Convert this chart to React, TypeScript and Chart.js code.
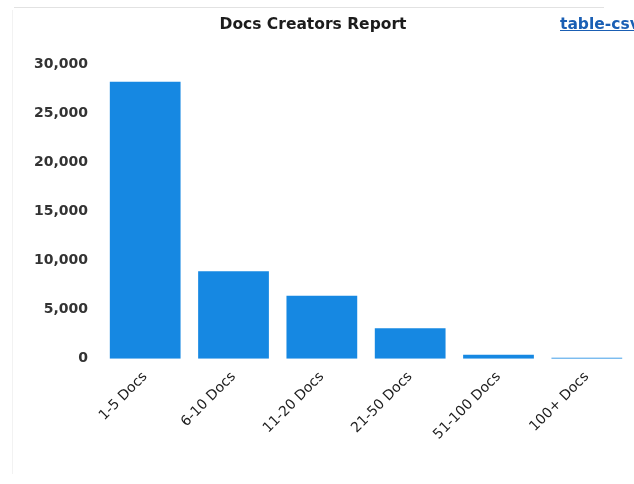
import React, { useEffect, useRef } from "react";
import { Chart, registerables } from "chart.js";

Chart.register(...registerables);

const categories = ["1-5 Docs", "6-10 Docs", "11-20 Docs", "21-50 Docs", "51-100 Docs", "100+ Docs"];
const creators = [28200, 8900, 6400, 3100, 400, 100];
const yTicks = [0, 5000, 10000, 15000, 20000, 25000, 30000];
const titleText = "Docs Creators Report";
const linkText = "table-csv";

const FONT = "'DejaVu Sans', Verdana, sans-serif";

export default function App() {
  const ref = useRef<HTMLCanvasElement | null>(null);
  useEffect(() => {
    if (!ref.current) return;
    const chart = new Chart(ref.current, {
      type: "bar",
      data: {
        labels: categories,
        datasets: [
          {
            label: "Creators",
            data: creators,
            backgroundColor: "#1688e2",
            borderWidth: 0,
            categoryPercentage: 0.9,
            barPercentage: 0.89,
          },
        ],
      },
      options: {
        animation: false,
        responsive: false,
        layout: { padding: { left: 29, right: 3, top: 64, bottom: 39 } },
        plugins: {
          legend: { display: false },
          tooltip: { enabled: false },
          title: { display: false },
        },
        scales: {
          x: {
            grid: { display: false },
            border: { display: false },
            ticks: {
              color: "#1c1c1c",
              font: { family: FONT, size: 14 },
              minRotation: 45,
              maxRotation: 45,
              padding: 2,
            },
          },
          y: {
            min: 0,
            max: 30000,
            grid: { display: false },
            border: { display: false },
            afterBuildTicks: (axis: any) => {
              axis.ticks = yTicks.map((v) => ({ value: v }));
            },
            ticks: {
              color: "#333",
              font: { family: FONT, size: 14, weight: "bold" },
              padding: 5,
              callback: (v: any) => Number(v).toLocaleString("en-US"),
            },
          },
        },
      },
    });
    return () => chart.destroy();
  }, []);
  return (
    <div style={{ position: "fixed", left: 0, top: 0, width: 634, height: 484, background: "#fff", overflow: "hidden" }}>
      <div style={{ position: "absolute", left: 14, right: 30, top: 7, height: 1, background: "#e2e2e2" }} />
      <div style={{ position: "absolute", left: 12, top: 10, bottom: 10, width: 1, background: "#f2f2f2" }} />
      <canvas ref={ref} width={634} height={484} style={{ position: "absolute", left: 0, top: 0 }} />
      <div
        style={{
          position: "absolute",
          left: 163,
          width: 300,
          top: 15,
          lineHeight: "18px",
          textAlign: "center",
          color: "#1c1c1c",
          fontFamily: FONT,
          fontWeight: "bold",
          fontSize: 15.5,
          whiteSpace: "nowrap",
        }}
      >
        {titleText}
      </div>
      <a
        href="#"
        style={{
          position: "absolute",
          left: 560,
          top: 15,
          color: "#1a5fb4",
          fontFamily: FONT,
          fontWeight: "bold",
          fontSize: 15.5,
          textDecoration: "underline",
          whiteSpace: "nowrap",
        }}
      >
        {linkText}
      </a>
    </div>
  );
}
